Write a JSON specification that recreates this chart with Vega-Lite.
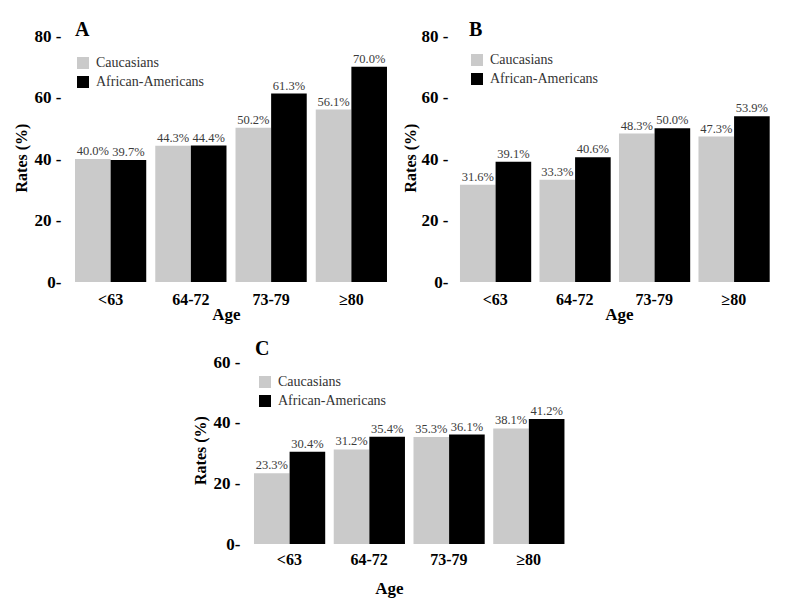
{
  "$schema": "https://vega.github.io/schema/vega-lite/v6.json",
  "padding": {"left": 13, "top": 20, "right": 5, "bottom": 5},
  "background": "white",
  "config": {
    "font": "Liberation Serif",
    "view": {"stroke": null},
    "axis": {"grid": false}
  },
  "datasets": {
    "rates": [
      {"panel": "A", "age": "<63", "group": "Caucasians", "value": 40.0, "label": "40.0%"},
      {"panel": "A", "age": "<63", "group": "African-Americans", "value": 39.7, "label": "39.7%"},
      {"panel": "A", "age": "64-72", "group": "Caucasians", "value": 44.3, "label": "44.3%"},
      {"panel": "A", "age": "64-72", "group": "African-Americans", "value": 44.4, "label": "44.4%"},
      {"panel": "A", "age": "73-79", "group": "Caucasians", "value": 50.2, "label": "50.2%"},
      {"panel": "A", "age": "73-79", "group": "African-Americans", "value": 61.3, "label": "61.3%"},
      {"panel": "A", "age": "≥80", "group": "Caucasians", "value": 56.1, "label": "56.1%"},
      {"panel": "A", "age": "≥80", "group": "African-Americans", "value": 70.0, "label": "70.0%"},
      {"panel": "B", "age": "<63", "group": "Caucasians", "value": 31.6, "label": "31.6%"},
      {"panel": "B", "age": "<63", "group": "African-Americans", "value": 39.1, "label": "39.1%"},
      {"panel": "B", "age": "64-72", "group": "Caucasians", "value": 33.3, "label": "33.3%"},
      {"panel": "B", "age": "64-72", "group": "African-Americans", "value": 40.6, "label": "40.6%"},
      {"panel": "B", "age": "73-79", "group": "Caucasians", "value": 48.3, "label": "48.3%"},
      {"panel": "B", "age": "73-79", "group": "African-Americans", "value": 50.0, "label": "50.0%"},
      {"panel": "B", "age": "≥80", "group": "Caucasians", "value": 47.3, "label": "47.3%"},
      {"panel": "B", "age": "≥80", "group": "African-Americans", "value": 53.9, "label": "53.9%"},
      {"panel": "C", "age": "<63", "group": "Caucasians", "value": 23.3, "label": "23.3%"},
      {"panel": "C", "age": "<63", "group": "African-Americans", "value": 30.4, "label": "30.4%"},
      {"panel": "C", "age": "64-72", "group": "Caucasians", "value": 31.2, "label": "31.2%"},
      {"panel": "C", "age": "64-72", "group": "African-Americans", "value": 35.4, "label": "35.4%"},
      {"panel": "C", "age": "73-79", "group": "Caucasians", "value": 35.3, "label": "35.3%"},
      {"panel": "C", "age": "73-79", "group": "African-Americans", "value": 36.1, "label": "36.1%"},
      {"panel": "C", "age": "≥80", "group": "Caucasians", "value": 38.1, "label": "38.1%"},
      {"panel": "C", "age": "≥80", "group": "African-Americans", "value": 41.2, "label": "41.2%"}
    ],
    "empty": []
  },
  "data": {"name": "rates"},
  "resolve": {"scale": {"color": "independent"}, "legend": {"color": "independent"}},
  "spacing": 17,
  "vconcat": [
    {
      "spacing": 11,
      "resolve": {"scale": {"color": "independent"}, "legend": {"color": "independent"}},
      "hconcat": [
        {
          "title": {"text": "A", "anchor": "start", "frame": "group", "fontSize": 20, "fontWeight": "bold", "color": "black", "dx": 4, "offset": -13},
          "width": 320,
          "height": 249,
          "transform": [{"filter": "datum.panel == 'A'"}],
          "encoding": {
            "x": {"field": "age", "type": "nominal", "sort": ["<63", "64-72", "73-79", "≥80"], "scale": {"paddingInner": 0.1125, "paddingOuter": 0.05},
              "axis": {"title": "Age", "titleX": 155, "domain": false, "ticks": false, "labelAngle": 0, "labelFontSize": 16, "labelFontWeight": "bold", "labelColor": "black", "labelPadding": 9, "titleFontSize": 17, "titleFontWeight": "bold", "titleColor": "black", "titlePadding": -1}},
            "xOffset": {"field": "group", "type": "nominal", "sort": ["Caucasians", "African-Americans"]},
            "y": {"field": "value", "type": "quantitative", "scale": {"domain": [0, 81], "nice": false},
              "axis": {"title": "Rates (%)", "values": [0, 20, 40, 60, 80], "labelExpr": "datum.value == 0 ? '0-' : datum.label + ' -'", "domain": false, "ticks": false, "labelPadding": 10, "labelFontSize": 17, "labelFontWeight": "bold", "labelColor": "black", "titleFontSize": 16, "titleFontWeight": "bold", "titleColor": "black", "titlePadding": 5}}
          },
          "layer": [
            {"mark": {"type": "bar"},
              "encoding": {"color": {"field": "group", "type": "nominal", "scale": {"domain": ["Caucasians", "African-Americans"], "range": ["#cacaca", "#000000"]},
                "legend": {"orient": "none", "legendX": 5, "legendY": 23, "title": null, "symbolType": "square", "symbolSize": 144, "symbolStrokeWidth": 0, "labelFontSize": 14, "labelColor": "#333", "labelOffset": 6, "rowPadding": 5, "padding": 0}}}},
            {"mark": {"type": "text", "baseline": "alphabetic", "dy": -4, "fontSize": 12.5, "color": "#3a3a3a"}, "encoding": {"text": {"field": "label"}}}
          ]
        },
        {
          "title": {"text": "B", "anchor": "start", "frame": "group", "fontSize": 20, "fontWeight": "bold", "color": "black", "dx": 13, "offset": -13},
          "width": 317,
          "height": 249,
          "transform": [{"filter": "datum.panel == 'B'"}],
          "encoding": {
            "x": {"field": "age", "type": "nominal", "sort": ["<63", "64-72", "73-79", "≥80"], "scale": {"paddingInner": 0.1125, "paddingOuter": 0.05},
              "axis": {"title": "Age", "titleX": 163, "domain": false, "ticks": false, "labelAngle": 0, "labelFontSize": 16, "labelFontWeight": "bold", "labelColor": "black", "labelPadding": 9, "titleFontSize": 17, "titleFontWeight": "bold", "titleColor": "black", "titlePadding": -1}},
            "xOffset": {"field": "group", "type": "nominal", "sort": ["Caucasians", "African-Americans"]},
            "y": {"field": "value", "type": "quantitative", "scale": {"domain": [0, 81], "nice": false},
              "axis": {"title": "Rates (%)", "values": [0, 20, 40, 60, 80], "labelExpr": "datum.value == 0 ? '0-' : datum.label + ' -'", "domain": false, "ticks": false, "labelPadding": 8, "labelFontSize": 17, "labelFontWeight": "bold", "labelColor": "black", "titleFontSize": 16, "titleFontWeight": "bold", "titleColor": "black", "titlePadding": 3}}
          },
          "layer": [
            {"mark": {"type": "bar"},
              "encoding": {"color": {"field": "group", "type": "nominal", "scale": {"domain": ["Caucasians", "African-Americans"], "range": ["#cacaca", "#000000"]},
                "legend": {"orient": "none", "legendX": 14, "legendY": 20, "title": null, "symbolType": "square", "symbolSize": 144, "symbolStrokeWidth": 0, "labelFontSize": 14, "labelColor": "#333", "labelOffset": 6, "rowPadding": 5, "padding": 0}}}},
            {"mark": {"type": "text", "baseline": "alphabetic", "dy": -4, "fontSize": 12.5, "color": "#3a3a3a"}, "encoding": {"text": {"field": "label"}}}
          ]
        }
      ]
    },
    {
      "spacing": 0,
      "resolve": {"scale": {"color": "independent"}, "legend": {"color": "independent"}},
      "hconcat": [
        {
          "data": {"name": "empty"},
          "width": 121,
          "height": 1,
          "mark": "point"
        },
        {
          "title": {"text": "C", "anchor": "start", "frame": "group", "fontSize": 20, "fontWeight": "bold", "color": "black", "dx": 5, "offset": -6},
          "width": 318,
          "height": 188,
          "transform": [{"filter": "datum.panel == 'C'"}],
          "encoding": {
            "x": {"field": "age", "type": "nominal", "sort": ["<63", "64-72", "73-79", "≥80"], "scale": {"paddingInner": 0.1125, "paddingOuter": 0.05},
              "axis": {"title": "Age", "titleX": 139, "domain": false, "ticks": false, "labelAngle": 0, "labelFontSize": 16, "labelFontWeight": "bold", "labelColor": "black", "labelPadding": 7, "titleFontSize": 17, "titleFontWeight": "bold", "titleColor": "black", "titlePadding": 13}},
            "xOffset": {"field": "group", "type": "nominal", "sort": ["Caucasians", "African-Americans"]},
            "y": {"field": "value", "type": "quantitative", "scale": {"domain": [0, 62], "nice": false},
              "axis": {"title": "Rates (%)", "values": [0, 20, 40, 60], "labelExpr": "datum.value == 0 ? '0-' : datum.label + ' -'", "domain": false, "ticks": false, "labelPadding": 10, "labelFontSize": 17, "labelFontWeight": "bold", "labelColor": "black", "titleFontSize": 16, "titleFontWeight": "bold", "titleColor": "black", "titlePadding": 5}}
          },
          "layer": [
            {"mark": {"type": "bar"},
              "encoding": {"color": {"field": "group", "type": "nominal", "scale": {"domain": ["Caucasians", "African-Americans"], "range": ["#cacaca", "#000000"]},
                "legend": {"orient": "none", "legendX": 8, "legendY": 19, "title": null, "symbolType": "square", "symbolSize": 144, "symbolStrokeWidth": 0, "labelFontSize": 14, "labelColor": "#333", "labelOffset": 6, "rowPadding": 5, "padding": 0}}}},
            {"mark": {"type": "text", "baseline": "alphabetic", "dy": -4, "fontSize": 12.5, "color": "#3a3a3a"}, "encoding": {"text": {"field": "label"}}}
          ]
        }
      ]
    }
  ]
}
